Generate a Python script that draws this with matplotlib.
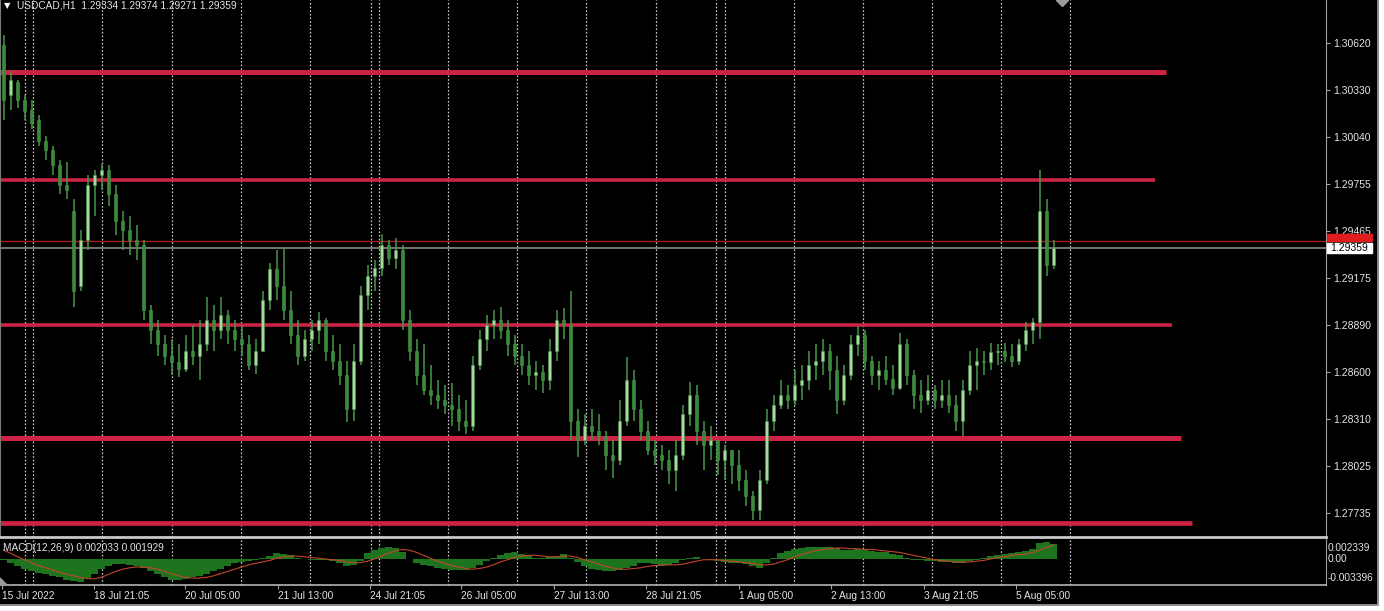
import matplotlib
matplotlib.use('Agg')
import matplotlib.pyplot as plt
from matplotlib.lines import Line2D
from matplotlib.patches import Rectangle, Polygon
import numpy as np

plt.rcParams['font.family'] = ['Liberation Sans', 'DejaVu Sans']

W, H = 1384, 611

title = 'USDCAD,H1  1.29334 1.29374 1.29271 1.29359'
macd_title = 'MACD(12,26,9) 0.002033 0.001929'
bid = 1.29359
ask = 1.29404

# H1 candles (one entry per ~2 bars)
opens = [1.3061, 1.3030, 1.3038, 1.3027, 1.3021, 1.3015, 1.3002, 1.2996, 1.2987, 1.2975,
         1.2959, 1.2913, 1.2941, 1.2975, 1.2981, 1.2984, 1.2969, 1.2953, 1.2947, 1.2941,
         1.2938, 1.2898, 1.2886, 1.2877, 1.2870, 1.2866, 1.2862, 1.2873, 1.2870, 1.2877,
         1.2892, 1.2886, 1.2895, 1.2886, 1.2880, 1.2877, 1.2864, 1.2873, 1.2904, 1.2923,
         1.2913, 1.2898, 1.2883, 1.2870, 1.2880, 1.2886, 1.2892, 1.2873, 1.2867, 1.2858,
         1.2837, 1.2867, 1.2907, 1.2919, 1.2924, 1.2938, 1.2930, 1.2935, 1.2892, 1.2873,
         1.2858, 1.2849, 1.2846, 1.2843, 1.2840, 1.2837, 1.2830, 1.2827, 1.2864, 1.2880,
         1.2889, 1.2892, 1.2886, 1.2877, 1.2870, 1.2864, 1.2858, 1.2860, 1.2855, 1.2873,
         1.2892, 1.2889, 1.2830, 1.2818, 1.2827, 1.2824, 1.2821, 1.2809, 1.2806, 1.2830,
         1.2855, 1.2837, 1.2824, 1.2812, 1.2809, 1.2806, 1.2800, 1.2809, 1.2834, 1.2846,
         1.2824, 1.2815, 1.2818, 1.2806, 1.2812, 1.2803, 1.2794, 1.2784, 1.2775, 1.2794,
         1.2830, 1.2840, 1.2846, 1.2843, 1.2852, 1.2855, 1.2864, 1.2867, 1.2873, 1.2861,
         1.2843, 1.2858, 1.2877, 1.2883, 1.2867, 1.2858, 1.2861, 1.2856, 1.2850, 1.2877,
         1.2858, 1.2846, 1.2843, 1.2849, 1.2843, 1.2846, 1.2840, 1.2830, 1.2849, 1.2864,
         1.2867, 1.2866, 1.2872, 1.2873, 1.2870, 1.2867, 1.2877, 1.2886, 1.2891, 1.2959, 1.2926]
highs = [1.3067, 1.3045, 1.3039, 1.3030, 1.3027, 1.3018, 1.3005, 1.2999, 1.2990, 1.2989,
         1.2966, 1.2947, 1.2981, 1.2984, 1.2988, 1.2987, 1.2975, 1.2959, 1.2956, 1.2950,
         1.2941, 1.2901, 1.2892, 1.2883, 1.2880, 1.2877, 1.2883, 1.2889, 1.2892, 1.2906,
         1.2901, 1.2906, 1.2898, 1.2892, 1.2889, 1.2883, 1.2880, 1.2910, 1.2927, 1.2935,
         1.2936, 1.2910, 1.2892, 1.2886, 1.2892, 1.2897, 1.2893, 1.2883, 1.2877, 1.2867,
         1.2877, 1.2913, 1.2926, 1.2929, 1.2945, 1.2941, 1.2942, 1.2938, 1.2898, 1.2880,
         1.2877, 1.2864, 1.2855, 1.2852, 1.2853, 1.2846, 1.2843, 1.2870, 1.2886, 1.2895,
         1.2898, 1.2900, 1.2892, 1.2883, 1.2877, 1.2873, 1.2867, 1.2864, 1.2880, 1.2898,
         1.2899, 1.2910, 1.2837, 1.2834, 1.2837, 1.2834, 1.2824, 1.2818, 1.2843, 1.2869,
         1.2861, 1.2843, 1.2830, 1.2818, 1.2815, 1.2812, 1.2818, 1.2840, 1.2854, 1.2852,
         1.2830, 1.2827, 1.2818, 1.2815, 1.2812, 1.2812, 1.2800, 1.2787, 1.2800, 1.2837,
         1.2846, 1.2855, 1.2852, 1.2861, 1.2864, 1.2873, 1.2877, 1.2880, 1.2877, 1.2870,
         1.2864, 1.2883, 1.2888, 1.2886, 1.2870, 1.2867, 1.2870, 1.2864, 1.2884, 1.2880,
         1.2861, 1.2855, 1.2858, 1.2852, 1.2855, 1.2855, 1.2846, 1.2855, 1.2873, 1.2875,
         1.2873, 1.2878, 1.2877, 1.2878, 1.2877, 1.2880, 1.2891, 1.2893, 1.2984, 1.2966, 1.2941]
lows = [1.3015, 1.3021, 1.3022, 1.3015, 1.3009, 1.2999, 1.2990, 1.2981, 1.2969, 1.2966,
        1.2900, 1.2910, 1.2935, 1.2956, 1.2972, 1.2962, 1.2944, 1.2935, 1.2932, 1.2929,
        1.2892, 1.2877, 1.2870, 1.2864, 1.2858, 1.2857, 1.2860, 1.2864, 1.2855, 1.2873,
        1.2873, 1.2880, 1.2877, 1.2873, 1.2870, 1.2861, 1.2859, 1.2873, 1.2898, 1.2904,
        1.2892, 1.2877, 1.2864, 1.2867, 1.2873, 1.2877, 1.2867, 1.2861, 1.2852, 1.2829,
        1.2830, 1.2864, 1.2898, 1.2910, 1.2919, 1.2926, 1.2923, 1.2886, 1.2867, 1.2852,
        1.2846, 1.2840, 1.2837, 1.2834, 1.2827, 1.2824, 1.2822, 1.2824, 1.2861, 1.2873,
        1.2880, 1.2880, 1.2870, 1.2864, 1.2858, 1.2852, 1.2849, 1.2847, 1.2849, 1.2867,
        1.2880, 1.2818, 1.2808, 1.2815, 1.2818, 1.2815, 1.2800, 1.2795, 1.2803, 1.2827,
        1.2830, 1.2818, 1.2809, 1.2803, 1.2800, 1.2791, 1.2787, 1.2806, 1.2827, 1.2815,
        1.2800, 1.2806, 1.2797, 1.2794, 1.2791, 1.2787, 1.2778, 1.2769, 1.2769, 1.2791,
        1.2824, 1.2837, 1.2837, 1.2840, 1.2843, 1.2849, 1.2855, 1.2858, 1.2849, 1.2834,
        1.2840, 1.2855, 1.2870, 1.2861, 1.2852, 1.2849, 1.2852, 1.2846, 1.2849, 1.2852,
        1.2837, 1.2835, 1.2840, 1.2837, 1.2838, 1.2835, 1.2824, 1.2821, 1.2846, 1.2849,
        1.2858, 1.2861, 1.2864, 1.2866, 1.2863, 1.2864, 1.2873, 1.2877, 1.2880, 1.2919, 1.2923]
closes = [1.3027, 1.3039, 1.3027, 1.3020, 1.3013, 1.3002, 1.2996, 1.2987, 1.2975, 1.2972,
          1.2910, 1.2941, 1.2975, 1.2981, 1.2984, 1.2969, 1.2953, 1.2947, 1.2941, 1.2938,
          1.2898, 1.2886, 1.2877, 1.2870, 1.2866, 1.2862, 1.2873, 1.2870, 1.2877, 1.2892,
          1.2886, 1.2895, 1.2886, 1.2880, 1.2877, 1.2864, 1.2873, 1.2904, 1.2923, 1.2913,
          1.2898, 1.2883, 1.2870, 1.2880, 1.2886, 1.2892, 1.2873, 1.2867, 1.2858, 1.2837,
          1.2867, 1.2907, 1.2919, 1.2924, 1.2938, 1.2930, 1.2935, 1.2892, 1.2873, 1.2858,
          1.2849, 1.2846, 1.2843, 1.2840, 1.2837, 1.2830, 1.2827, 1.2864, 1.2880, 1.2889,
          1.2892, 1.2886, 1.2877, 1.2870, 1.2864, 1.2858, 1.2860, 1.2855, 1.2873, 1.2892,
          1.2889, 1.2830, 1.2818, 1.2827, 1.2824, 1.2821, 1.2809, 1.2806, 1.2830, 1.2855,
          1.2837, 1.2824, 1.2812, 1.2809, 1.2806, 1.2800, 1.2809, 1.2834, 1.2846, 1.2824,
          1.2815, 1.2818, 1.2806, 1.2812, 1.2803, 1.2794, 1.2784, 1.2775, 1.2794, 1.2830,
          1.2840, 1.2846, 1.2843, 1.2852, 1.2855, 1.2864, 1.2867, 1.2873, 1.2861, 1.2843,
          1.2858, 1.2877, 1.2883, 1.2867, 1.2858, 1.2861, 1.2856, 1.2850, 1.2877, 1.2858,
          1.2846, 1.2843, 1.2849, 1.2843, 1.2846, 1.2840, 1.2830, 1.2849, 1.2864, 1.2867,
          1.2866, 1.2872, 1.2873, 1.2870, 1.2867, 1.2877, 1.2886, 1.2891, 1.2959, 1.2926, 1.2936]

macd = [-0.0002, -0.0006, -0.0010, -0.0013, -0.0017, -0.0019, -0.0021, -0.0023, -0.0025, -0.0028,
        -0.0030, -0.0031, -0.0026, -0.0020, -0.0014, -0.0009, -0.0007, -0.0007, -0.0008, -0.0010,
        -0.0012, -0.0016, -0.0021, -0.0025, -0.0028, -0.0028, -0.0027, -0.0025, -0.0023, -0.0020,
        -0.0017, -0.0013, -0.0010, -0.0006, -0.0004, -0.0003, -0.0002, 0.0001, 0.0004, 0.0008,
        0.0007, 0.0005, 0.0002, 0.0000, -0.0001, -0.0002, -0.0002, -0.0003, -0.0005, -0.0009,
        -0.0008, -0.0003, 0.0008, 0.0012, 0.0015, 0.0016, 0.0015, 0.0010, 0.0000, -0.0005,
        -0.0008, -0.0010, -0.0012, -0.0014, -0.0015, -0.0015, -0.0015, -0.0012, -0.0008, -0.0003,
        0.0001, 0.0006, 0.0008, 0.0009, 0.0007, 0.0004, 0.0002, 0.0002, 0.0003, 0.0004,
        0.0007, 0.0002, -0.0004, -0.0010, -0.0013, -0.0015, -0.0017, -0.0017, -0.0015, -0.0012,
        -0.0009, -0.0006, -0.0005, -0.0007, -0.0009, -0.0008, -0.0006, -0.0002, 0.0002, 0.0003,
        0.0000, -0.0002, -0.0003, -0.0004, -0.0005, -0.0006, -0.0007, -0.0010, -0.0012, -0.0006,
        0.0002, 0.0008, 0.0011, 0.0013, 0.0015, 0.0016, 0.0016, 0.0017, 0.0016, 0.0015,
        0.0012, 0.0012, 0.0013, 0.0012, 0.0011, 0.0010, 0.0009, 0.0007, 0.0005, 0.0001,
        -0.0001, -0.0002, -0.0003, -0.0003, -0.0004, -0.0004, -0.0005, -0.0005, -0.0003, -0.0001,
        0.0001, 0.0004, 0.0006, 0.0007, 0.0008, 0.0009, 0.0011, 0.0013, 0.0022, 0.0023, 0.0020]
signal = [0.0012, 0.0008, 0.0003, -0.0001, -0.0005, -0.0009, -0.0012, -0.0015, -0.0018, -0.0021,
          -0.0023, -0.0025, -0.0027, -0.0027, -0.0025, -0.0021, -0.0017, -0.0014, -0.0012, -0.0011,
          -0.0011, -0.0012, -0.0014, -0.0017, -0.0020, -0.0023, -0.0025, -0.0026, -0.0026, -0.0025,
          -0.0023, -0.0020, -0.0017, -0.0014, -0.0011, -0.0008, -0.0006, -0.0004, -0.0002, 0.0001,
          0.0003, 0.0004, 0.0004, 0.0003, 0.0002, 0.0001, 0.0000, -0.0001, -0.0002, -0.0004,
          -0.0005, -0.0005, -0.0003, 0.0000, 0.0004, 0.0008, 0.0011, 0.0013, 0.0012, 0.0009,
          0.0005, 0.0001, -0.0003, -0.0006, -0.0009, -0.0011, -0.0013, -0.0014, -0.0013, -0.0011,
          -0.0008, -0.0004, -0.0001, 0.0002, 0.0004, 0.0005, 0.0005, 0.0004, 0.0003, 0.0003,
          0.0004, 0.0004, 0.0002, -0.0001, -0.0004, -0.0007, -0.0010, -0.0012, -0.0014, -0.0014,
          -0.0013, -0.0012, -0.0010, -0.0009, -0.0008, -0.0008, -0.0008, -0.0007, -0.0005, -0.0003,
          -0.0001, -0.0001, -0.0001, -0.0002, -0.0003, -0.0004, -0.0005, -0.0006, -0.0008, -0.0008,
          -0.0007, -0.0004, -0.0001, 0.0003, 0.0006, 0.0009, 0.0011, 0.0013, 0.0014, 0.0015,
          0.0015, 0.0014, 0.0014, 0.0013, 0.0013, 0.0012, 0.0011, 0.0010, 0.0009, 0.0007,
          0.0005, 0.0003, 0.0001, -0.0001, -0.0002, -0.0003, -0.0004, -0.0004, -0.0004, -0.0003,
          -0.0002, 0.0000, 0.0002, 0.0003, 0.0005, 0.0006, 0.0007, 0.0009, 0.0012, 0.0016, 0.0019]

levels = [1.30442, 1.29779, 1.28889, 1.28195, 1.27673]
price_ticks = [1.30620, 1.30330, 1.30040, 1.29755, 1.29465, 1.29175,
               1.28890, 1.28600, 1.28310, 1.28025, 1.27735]
date_labels = ['15 Jul 2022', '18 Jul 21:05', '20 Jul 05:00', '21 Jul 13:00',
               '24 Jul 21:05', '26 Jul 05:00', '27 Jul 13:00', '28 Jul 21:05',
               '1 Aug 05:00', '2 Aug 13:00', '3 Aug 21:05', '5 Aug 05:00']
macd_labels = ['0.002339', '0.00', '-0.003396']

# layout (pixels of the 1384x611 image)
level_end_px = [1166, 1155, 1172, 1181, 1192]
level_lw = [3.6, 2.6, 2.6, 3.6, 3.4]
date_px = [2, 94, 185, 278, 370, 461, 554, 646, 739, 831, 924, 1016]
grid_px = [25, 33, 102, 172, 241, 310, 371, 379, 448, 517, 586, 656,
           716, 725, 794, 863, 932, 1001, 1070]
macd_label_py = [548, 559, 578]
PITCH = 7.0
AXIS_PX = 1326


def px2bar(px):
    return (px - 3.5) / PITCH


def fx(px):
    return px / W


def fy(py):
    return 1 - py / H


BG = 'black'
WICK = '#4a984a'
TXT = '#e4e4e4'
RED = '#cc2244'

fig = plt.figure(figsize=(W / 100, H / 100), dpi=100, facecolor=BG)
ax = fig.add_axes([0, fy(537), fx(AXIS_PX), 537 / H], facecolor=BG)
ax2 = fig.add_axes([0, fy(585), fx(AXIS_PX), 46 / H], facecolor=BG)

xlim = (px2bar(0), px2bar(AXIS_PX))
for a in (ax, ax2):
    a.set_xlim(*xlim)
    for px in grid_px:
        a.axvline(px2bar(px), color='#d0d0d0', lw=0.9, ls=(0, (1.3, 1.6)), zorder=1)

# price panel
ax.set_ylim(1.27587, 1.30884)
for lv, end, lw in zip(levels, level_end_px, level_lw):
    ax.hlines(lv, xlim[0], px2bar(end), color=RED, lw=lw, zorder=2)
ax.axhline(ask, color='#a31c1c', lw=1.0, zorder=2)
ax.axhline(bid, color='#8a8a8a', lw=1.2, zorder=2)

o = np.array(opens)
hi = np.array(highs)
lo = np.array(lows)
c = np.array(closes)
idx = np.arange(len(c))
up = c >= o
ax.vlines(idx, lo, hi, color=WICK, lw=1.1, zorder=3)
body_lo = np.minimum(o, c)
body_h = np.maximum(np.abs(c - o), 0.00004)
ax.bar(idx[up], body_h[up], bottom=body_lo[up], width=0.36,
       color='#a9d79f', edgecolor=WICK, linewidth=0.4, zorder=4)
ax.bar(idx[~up], body_h[~up], bottom=body_lo[~up], width=0.36,
       color='#3b8a3b', edgecolor=WICK, linewidth=0.4, zorder=4)

ax.plot([px2bar(1062)], [1.30884], marker='D', ms=6, color='#9a9a9a', zorder=5)

ax.yaxis.tick_right()
ax.set_yticks(price_ticks)
ax.set_yticklabels([f'{t:.5f}' for t in price_ticks])
ax.tick_params(axis='y', colors='#a0a0a0', labelcolor=TXT, length=3, width=0.8,
               pad=2, labelsize=7.5)
ax.set_xticks([])
ax.spines['top'].set_visible(False)
ax.spines['left'].set_color('#7a7a7a')
ax.spines['right'].set_color('#a0a0a0')
ax.spines['bottom'].set_color('#c8c8c8')
ax.spines['bottom'].set_linewidth(2.0)

# MACD panel
ax2.set_ylim(-0.00355, 0.00273)
ax2.bar(idx, macd, width=0.92, color='#1e741e', zorder=2)
ax2.plot(idx, signal, color='#c2452a', lw=0.8, zorder=3)
ax2.set_yticks([])
ax2.set_xticks([px2bar(p) for p in date_px])
ax2.set_xticklabels(date_labels, ha='left')
ax2.tick_params(axis='x', colors='#a0a0a0', labelcolor=TXT, length=3, width=0.8,
                pad=1.5, labelsize=7.3)
ax2.spines['top'].set_visible(False)
ax2.spines['left'].set_visible(False)
ax2.spines['right'].set_color('#a0a0a0')
ax2.spines['bottom'].set_color('#b4b4b4')
ax2.spines['bottom'].set_linewidth(1.2)

# texts
fig.text(fx(4), fy(6), '\u25bc', color='white', fontsize=6, va='center', ha='left',
         family='DejaVu Sans')
fig.text(fx(17), fy(6), title, color=TXT, fontsize=7.3, va='center', ha='left')
fig.text(fx(3), fy(548), macd_title, color=TXT, fontsize=7.3, va='center', ha='left')
for lab, py in zip(macd_labels, macd_label_py):
    fig.text(fx(1328), fy(py), lab, color=TXT, fontsize=7.3, va='center', ha='left')

# price boxes on the axis
fig.add_artist(Rectangle((fx(1327), fy(241)), fx(45), 7 / H, color='#e01c1c',
                         transform=fig.transFigure))
fig.add_artist(Rectangle((fx(1327), fy(253)), fx(45), 10 / H, color='white',
                         transform=fig.transFigure))
fig.text(fx(1330), fy(248), f'{bid:.5f}', color='black', fontsize=7.5, va='center', ha='left')

# frame and corner marks
fig.add_artist(Polygon([(fx(0), fy(585)), (fx(0), fy(578)), (fx(7), fy(585))],
                       closed=True, color='#9a9a9a', transform=fig.transFigure))
fig.add_artist(Rectangle((fx(1379), 0), 1, 1, color='white', transform=fig.transFigure))
fig.add_artist(Rectangle((0, 0), 1, fy(606), color='white', transform=fig.transFigure))
fig.add_artist(Line2D([fx(1378), fx(1378)], [fy(0), fy(605)], color='#a0a0a0', lw=1.2))
fig.add_artist(Line2D([0, fx(1378)], [fy(605), fy(605)], color='#a0a0a0', lw=1.2))

fig.savefig('out.png', dpi=100, facecolor=BG)
